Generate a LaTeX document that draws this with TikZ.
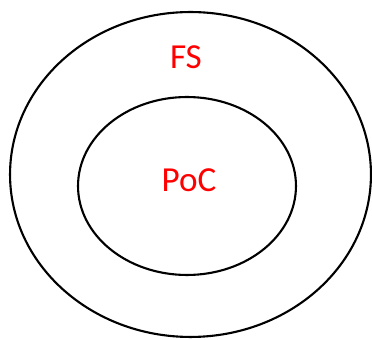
\documentclass[tikz,border=0pt]{standalone}
\usepackage{fontspec}
\setmainfont{Carlito}
\usetikzlibrary{shapes.geometric}
\tikzset{
  setshape/.style={draw,ellipse,line width=1.2pt,inner sep=0pt},
  lbl/.style     ={text=red,font=\fontsize{20}{23}\selectfont,inner sep=0pt},
}

\begin{document}
\begin{tikzpicture}[x=0.02cm,y=-0.02cm]
\useasboundingbox (0,0) rectangle (372,340);
% sets
\node[setshape,minimum width=7.22cm,minimum height=6.5cm] (FS) at (190.5,174.5) {};
\node[setshape,minimum width=4.36cm,minimum height=3.56cm] (PoC) at (187,186) {};

% labels
\node[lbl] (FSlbl) at (186,57) {FS};
\node[lbl] (PoClbl) at (189,180) {PoC};
\end{tikzpicture}
\end{document}
